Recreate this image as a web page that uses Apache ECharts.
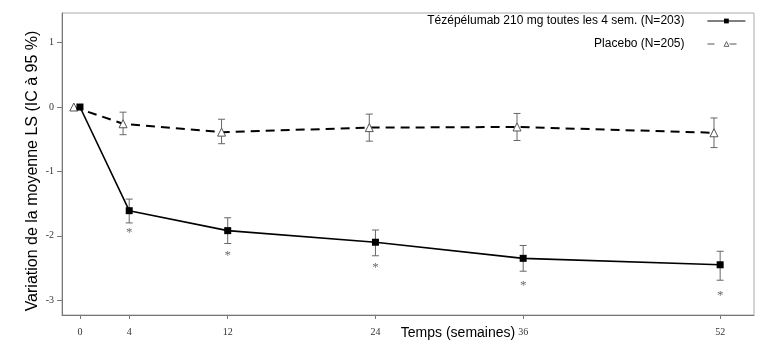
<!DOCTYPE html>
<html>
<head>
<meta charset="utf-8">
<script src="https://cdn.jsdelivr.net/npm/echarts@6/dist/echarts.min.js"></script>
<style>
    html, body {margin: 0; padding: 0; background: #fff;}
    #chart {width: 773px; height: 350px;}
</style>
</head>
<body>
<div id="chart"></div>
<script>
// semaines
var weeks = [0, 4, 12, 24, 36, 52];
var placeboShift = -0.5; // points placebo décalés à gauche
var tickWeeks = [0, 4, 12, 24, 36, 52];
var tickValuesY = [-3, -2, -1, 0, 1];

// Tézépélumab
var activeMean = [0, -1.61, -1.92, -2.10, -2.35, -2.45];
var activeLow = [null, -1.80, -2.12, -2.31, -2.55, -2.69];
var activeHigh = [null, -1.43, -1.72, -1.91, -2.15, -2.24];
var starY = [null, -1.95, -2.31, -2.50, -2.77, -2.93];

// Placebo
var placeboMean = [0, -0.26, -0.39, -0.32, -0.31, -0.40];
var placeboLow = [null, -0.43, -0.57, -0.53, -0.52, -0.63];
var placeboHigh = [null, -0.08, -0.19, -0.11, -0.10, -0.17];

var nameActive = 'Tézépélumab 210 mg toutes les 4 sem. (N=203)';
var namePlacebo = 'Placebo (N=205)';

var myChart = echarts.init(document.getElementById('chart'));

function pairs(xs, ys, shift) {
    var out = [];
    for (var i = 0; i < xs.length; i++) {
        if (ys[i] !== null) out.push([xs[i] + shift, ys[i]]);
    }
    return out;
}

function bars(xs, lo, hi, shift) {
    var out = [];
    for (var i = 0; i < xs.length; i++) {
        if (lo[i] !== null) out.push([xs[i] + shift, lo[i], hi[i]]);
    }
    return out;
}

function errorBar(params, api) {
    var x = api.value(0);
    var a = api.coord([x, api.value(1)]);
    var b = api.coord([x, api.value(2)]);
    var w = 3.5;
    var st = {stroke: '#666', lineWidth: 1};
    return {
        type: 'group',
        children: [
            {type: 'line', shape: {x1: a[0], y1: a[1], x2: b[0], y2: b[1]}, style: st},
            {type: 'line', shape: {x1: a[0] - w, y1: a[1], x2: a[0] + w, y2: a[1]}, style: st},
            {type: 'line', shape: {x1: b[0] - w, y1: b[1], x2: b[0] + w, y2: b[1]}, style: st}
        ]
    };
}

var legendText = {
    color: '#000',
    fontFamily: 'Liberation Sans, Arial, sans-serif',
    fontSize: 12,
    padding: [0, 18, 0, 0]
};

var option = {
    animation: false,
    backgroundColor: '#fff',
    grid: {
        left: 62, right: 19, top: 13, bottom: 35,
        show: true, borderColor: '#aaa', borderWidth: 1
    },
    legend: [
        {
            data: [nameActive],
            align: 'right',
            right: 22, top: 10,
            itemWidth: 38, itemHeight: 6,
            lineStyle: {width: 1.2},
            textStyle: legendText
        },
        {
            data: [namePlacebo],
            align: 'right',
            right: 22, top: 33,
            itemWidth: 38, itemHeight: 6,
            itemStyle: {color: '#fff', borderColor: '#666', borderWidth: 1},
            lineStyle: {width: 1, color: '#555', type: [7, 15]},
            textStyle: legendText
        }
    ],
    xAxis: {
        type: 'value',
        min: -1.46,
        max: 54.75,
        splitLine: {show: false},
        axisLine: {onZero: false, lineStyle: {color: '#777'}},
        axisTick: {customValues: tickWeeks, length: 4, lineStyle: {color: '#777'}},
        axisLabel: {
            customValues: tickWeeks,
            color: '#333',
            fontFamily: 'Liberation Serif, Times New Roman, serif',
            fontSize: 10,
            margin: 12
        },
        name: 'Temps (semaines)',
        nameLocation: 'middle',
        nameGap: 11,
        nameMoveOverlap: false,
        nameTextStyle: {
            color: '#000',
            fontFamily: 'Liberation Sans, Arial, sans-serif',
            fontSize: 14,
            padding: [0, 0, 0, 100]
        }
    },
    yAxis: {
        type: 'value',
        min: -3.23,
        max: 1.46,
        splitLine: {show: false},
        axisLine: {show: true, onZero: false, lineStyle: {color: '#777'}},
        axisTick: {show: true, customValues: tickValuesY, length: 5, lineStyle: {color: '#777'}},
        axisLabel: {
            customValues: tickValuesY,
            color: '#333',
            fontFamily: 'Liberation Serif, Times New Roman, serif',
            fontSize: 10,
            margin: 8
        },
        name: 'Variation de la moyenne LS (IC à 95 %)',
        nameLocation: 'middle',
        nameGap: 21,
        nameMoveOverlap: false,
        nameTextStyle: {
            color: '#000',
            fontFamily: 'Liberation Sans, Arial, sans-serif',
            fontSize: 16,
            padding: [0, 14, 0, 0]
        }
    },
    series: [
        {
            name: 'errActive',
            type: 'custom',
            renderItem: errorBar,
            data: bars(weeks, activeLow, activeHigh, 0),
            z: 1
        },
        {
            name: 'errPlacebo',
            type: 'custom',
            renderItem: errorBar,
            data: bars(weeks, placeboLow, placeboHigh, placeboShift),
            z: 1
        },
        {
            name: namePlacebo,
            type: 'line',
            symbol: 'triangle',
            symbolSize: 8,
            itemStyle: {color: '#fff', borderColor: '#555', borderWidth: 1},
            lineStyle: {color: '#000', width: 2, type: [9, 6]},
            data: pairs(weeks, placeboMean, placeboShift),
            z: 3
        },
        {
            name: nameActive,
            type: 'line',
            symbol: 'rect',
            symbolSize: 7,
            itemStyle: {color: '#000'},
            lineStyle: {color: '#000', width: 1.6},
            data: pairs(weeks, activeMean, 0),
            z: 4
        },
        {
            name: 'stars',
            type: 'scatter',
            symbolSize: 0,
            silent: true,
            label: {
                show: true,
                position: 'inside',
                formatter: '*',
                color: '#444',
                fontFamily: 'Liberation Serif, Times New Roman, serif',
                fontSize: 13
            },
            data: pairs(weeks, starY, 0)
        }
    ]
};

myChart.setOption(option);
</script>
</body>
</html>
